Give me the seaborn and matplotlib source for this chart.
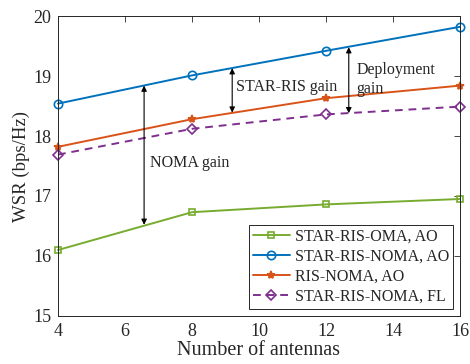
import matplotlib
matplotlib.use("Agg")
import matplotlib.pyplot as plt
import seaborn as sns
import pandas as pd

antennas = [4, 8, 12, 16]
oma_ao = [16.10, 16.73, 16.86, 16.95]
star_noma_ao = [18.54, 19.01, 19.42, 19.82]
ris_noma_ao = [17.82, 18.28, 18.63, 18.84]
star_noma_fl = [17.69, 18.12, 18.36, 18.49]
labels = ["STAR-RIS-OMA, AO", "STAR-RIS-NOMA, AO", "RIS-NOMA, AO", "STAR-RIS-NOMA, FL"]
xticks = [4, 6, 8, 10, 12, 14, 16]
yticks = [15, 16, 17, 18, 19, 20]

sns.set_theme(style="white")
plt.rcParams['font.family'] = ['Liberation Serif', 'DejaVu Serif']
plt.rcParams['mathtext.fontset'] = 'stix'

rows = []
for lab, vals in zip(labels, [oma_ao, star_noma_ao, ris_noma_ao, star_noma_fl]):
    for a, v in zip(antennas, vals):
        rows.append({"Antennas": a, "WSR": v, "Scheme": lab})
df = pd.DataFrame(rows)

colors = {labels[0]: "#77AC30", labels[1]: "#0072BD", labels[2]: "#D95319", labels[3]: "#7E2F8E"}
markers = {labels[0]: "s", labels[1]: "o", labels[2]: "*", labels[3]: "D"}
dashes = {labels[0]: "", labels[1]: "", labels[2]: "", labels[3]: (4, 3)}

fig = plt.figure(figsize=(4.70, 3.64), dpi=100)
ax = fig.add_axes([0.1234, 0.1319, 0.8553, 0.8241])

sns.lineplot(data=df, x="Antennas", y="WSR", hue="Scheme", style="Scheme",
             palette=colors, markers=markers, dashes=dashes, ax=ax,
             linewidth=1.4, markersize=6, legend=True)


def style_marker(line):
    m = line.get_marker()
    c = line.get_color()
    line.set_markeredgecolor(c)
    line.set_markeredgewidth(1.2)
    if m == "*":
        line.set_markerfacecolor(c)
        line.set_markersize(6)
    else:
        line.set_markerfacecolor("none")
    if m == "D":
        line.set_markersize(5)
    if m == "s":
        line.set_markersize(5)
    if m == "o":
        line.set_markersize(6)


for line in ax.get_lines():
    style_marker(line)
    line.set_clip_on(False)

ax.set_xlim(4, 16)
ax.set_ylim(15, 20)
ax.set_xticks(xticks)
ax.set_yticks(yticks)
ax.tick_params(direction="in", top=True, right=True, labelsize=13, length=4,
               width=0.6, colors="#262626", pad=5)
for s in ax.spines.values():
    s.set_color("#262626")
    s.set_linewidth(0.7)
ax.set_xlabel("Number of antennas", fontsize=14.5, color="#262626", labelpad=1)
ax.set_ylabel("WSR (bps/Hz)", fontsize=13.5, color="#262626", labelpad=2)

arrowprops = dict(arrowstyle="<|-|>", color="black", lw=0.8, mutation_scale=8, shrinkA=0, shrinkB=0)
ax.annotate("", xy=(6.57, 18.84), xytext=(6.57, 16.52), arrowprops=arrowprops)
ax.annotate("", xy=(9.2, 19.13), xytext=(9.2, 18.39), arrowprops=arrowprops)
ax.annotate("", xy=(12.68, 19.48), xytext=(12.68, 18.38), arrowprops=arrowprops)
ax.text(6.75, 17.55, "NOMA gain", fontsize=11.5, va="center", ha="left")
ax.text(9.3, 18.82, "STAR-RIS gain", fontsize=11.5, va="center", ha="left")
ax.text(12.9, 18.95, "Deployment\ngain", fontsize=11.5, va="center", ha="left", linespacing=1.25)

leg = ax.legend(loc="lower right", fontsize=11.5, frameon=True, fancybox=False,
                edgecolor="#262626", framealpha=1, borderpad=0.25, labelspacing=0.25,
                handlelength=2.3, handletextpad=0.3, borderaxespad=0.45)
leg.get_frame().set_linewidth(0.7)
for line in leg.get_lines():
    style_marker(line)

fig.savefig("out.png", dpi=100)
